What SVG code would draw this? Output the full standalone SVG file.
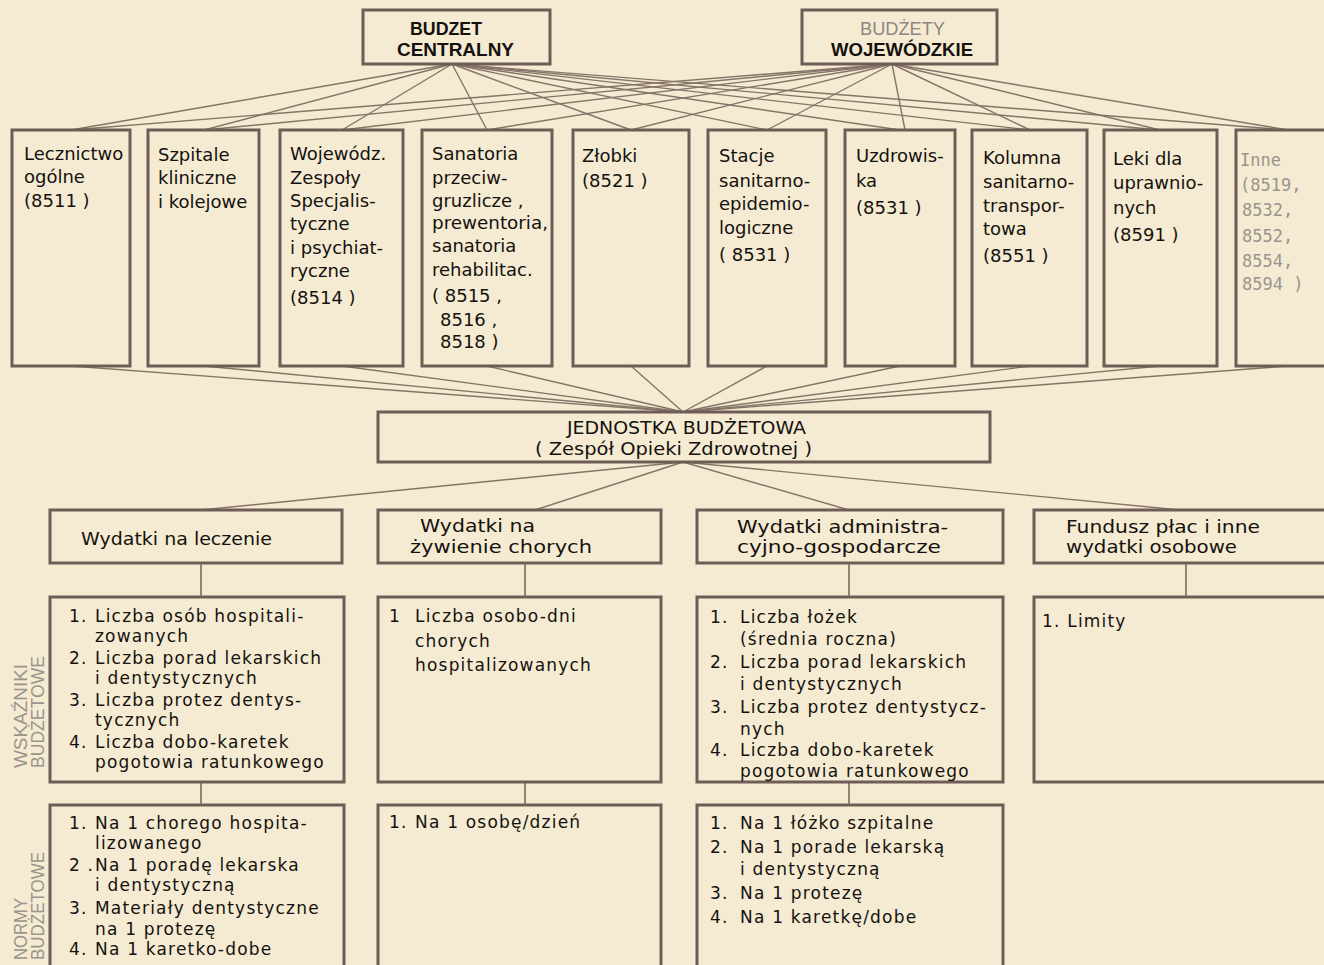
<svg xmlns="http://www.w3.org/2000/svg" width="1324" height="965" viewBox="0 0 1324 965">
<style>
.bg{fill:#f4ebd2}
.box{fill:none;stroke:#6f5c57;stroke-width:3}
.ln{stroke:#857468;stroke-width:1.4;fill:none}
.vl{stroke:#7a6a62;stroke-width:1.6;fill:none}
text{font-family:"DejaVu Sans","Liberation Sans",sans-serif;fill:#15110e}
.r{font-size:18px}
.i{font-size:17px;letter-spacing:1.2px}
.h{font-size:18px}
.top{font-family:"Liberation Sans",sans-serif;font-size:18px;font-weight:bold}
.gray{fill:#8c8680;font-weight:normal}
.mono{font-family:"DejaVu Sans Mono","Liberation Mono",monospace;font-size:17px;fill:#9a948e}
.side{font-family:"Liberation Sans",sans-serif;font-size:18px;fill:#9a948d}
</style>
<rect class="bg" x="0" y="0" width="1324" height="965"/>

<g id="connectors">
  <line class="ln" x1="452" y1="64" x2="71" y2="130"/>
  <line class="ln" x1="452" y1="64" x2="204" y2="130"/>
  <line class="ln" x1="452" y1="64" x2="342" y2="130"/>
  <line class="ln" x1="452" y1="64" x2="487" y2="130"/>
  <line class="ln" x1="452" y1="64" x2="631" y2="130"/>
  <line class="ln" x1="452" y1="64" x2="767" y2="130"/>
  <line class="ln" x1="452" y1="64" x2="900" y2="130"/>
  <line class="ln" x1="452" y1="64" x2="1030" y2="130"/>
  <line class="ln" x1="452" y1="64" x2="1160" y2="130"/>
  <line class="ln" x1="452" y1="64" x2="1288" y2="130"/>
  <line class="ln" x1="892" y1="64" x2="71" y2="130"/>
  <line class="ln" x1="892" y1="64" x2="204" y2="130"/>
  <line class="ln" x1="892" y1="64" x2="342" y2="130"/>
  <line class="ln" x1="892" y1="64" x2="487" y2="130"/>
  <line class="ln" x1="892" y1="64" x2="631" y2="130"/>
  <line class="ln" x1="892" y1="64" x2="767" y2="130"/>
  <line class="ln" x1="892" y1="64" x2="905" y2="130"/>
  <line class="ln" x1="892" y1="64" x2="1030" y2="130"/>
  <line class="ln" x1="892" y1="64" x2="1160" y2="130"/>
  <line class="ln" x1="892" y1="64" x2="1288" y2="130"/>
  <line class="ln" x1="71" y1="366" x2="683" y2="412"/>
  <line class="ln" x1="204" y1="366" x2="683" y2="412"/>
  <line class="ln" x1="342" y1="366" x2="683" y2="412"/>
  <line class="ln" x1="487" y1="366" x2="683" y2="412"/>
  <line class="ln" x1="631" y1="366" x2="683" y2="412"/>
  <line class="ln" x1="767" y1="366" x2="683" y2="412"/>
  <line class="ln" x1="900" y1="366" x2="683" y2="412"/>
  <line class="ln" x1="1030" y1="366" x2="683" y2="412"/>
  <line class="ln" x1="1160" y1="366" x2="683" y2="412"/>
  <line class="ln" x1="1288" y1="366" x2="683" y2="412"/>
  <line class="ln" x1="683" y1="462" x2="201" y2="510"/>
  <line class="ln" x1="683" y1="462" x2="535" y2="510"/>
  <line class="ln" x1="683" y1="462" x2="849" y2="510"/>
  <line class="ln" x1="683" y1="462" x2="1180" y2="510"/>
  <line class="vl" x1="201" y1="563" x2="201" y2="597"/>
  <line class="vl" x1="525" y1="563" x2="525" y2="597"/>
  <line class="vl" x1="849" y1="563" x2="849" y2="597"/>
  <line class="vl" x1="1186" y1="563" x2="1186" y2="597"/>
  <line class="vl" x1="201" y1="782" x2="201" y2="805"/>
  <line class="vl" x1="525" y1="782" x2="525" y2="805"/>
  <line class="vl" x1="849" y1="782" x2="849" y2="805"/>
</g>

<g id="budzet-centralny">
  <rect class="box" x="363" y="10" width="187" height="54"/>
  <text class="top" x="410" y="35" textLength="72" lengthAdjust="spacingAndGlyphs">BUDZET</text>
  <text class="top" x="397" y="56" textLength="117" lengthAdjust="spacingAndGlyphs">CENTRALNY</text>
</g>
<g id="budzety-wojewodzkie">
  <rect class="box" x="802" y="10" width="195" height="54"/>
  <text class="top gray" x="860" y="35" textLength="85" lengthAdjust="spacingAndGlyphs">BUDŻETY</text>
  <text class="top" x="831" y="56" textLength="142" lengthAdjust="spacingAndGlyphs">WOJEWÓDZKIE</text>
</g>

<g id="lecznictwo">
  <rect class="box" x="12" y="130" width="118" height="236"/>
  <text class="r" x="24" y="160">Lecznictwo</text>
  <text class="r" x="24" y="183">ogólne</text>
  <text class="r" x="24" y="207">(8511 )</text>
</g>
<g id="szpitale">
  <rect class="box" x="148" y="130" width="111" height="236"/>
  <text class="r" x="158" y="161">Szpitale</text>
  <text class="r" x="158" y="184">kliniczne</text>
  <text class="r" x="158" y="208">i kolejowe</text>
</g>
<g id="wojewodz">
  <rect class="box" x="280" y="130" width="123" height="236"/>
  <text class="r" x="290" y="160">Wojewódz.</text>
  <text class="r" x="290" y="184">Zespoły</text>
  <text class="r" x="290" y="207">Specjalis-</text>
  <text class="r" x="290" y="230">tyczne</text>
  <text class="r" x="290" y="254">i psychiat-</text>
  <text class="r" x="290" y="277">ryczne</text>
  <text class="r" x="290" y="304">(8514 )</text>
</g>
<g id="sanatoria">
  <rect class="box" x="422" y="130" width="130" height="236"/>
  <text class="r" x="432" y="160">Sanatoria</text>
  <text class="r" x="432" y="184">przeciw-</text>
  <text class="r" x="432" y="207">gruzlicze ,</text>
  <text class="r" x="432" y="229" textLength="116" lengthAdjust="spacingAndGlyphs">prewentoria,</text>
  <text class="r" x="432" y="252">sanatoria</text>
  <text class="r" x="432" y="276">rehabilitac.</text>
  <text class="r" x="432" y="302">( 8515 ,</text>
  <text class="r" x="440" y="326">8516 ,</text>
  <text class="r" x="440" y="348">8518 )</text>
</g>
<g id="zlobki">
  <rect class="box" x="573" y="130" width="116" height="236"/>
  <text class="r" x="582" y="162">Złobki</text>
  <text class="r" x="582" y="187">(8521 )</text>
</g>
<g id="stacje">
  <rect class="box" x="708" y="130" width="118" height="236"/>
  <text class="r" x="719" y="162">Stacje</text>
  <text class="r" x="719" y="187">sanitarno-</text>
  <text class="r" x="719" y="210">epidemio-</text>
  <text class="r" x="719" y="234">logiczne</text>
  <text class="r" x="719" y="261">( 8531 )</text>
</g>
<g id="uzdrowiska">
  <rect class="box" x="845" y="130" width="110" height="236"/>
  <text class="r" x="856" y="162">Uzdrowis-</text>
  <text class="r" x="856" y="187">ka</text>
  <text class="r" x="856" y="214">(8531 )</text>
</g>
<g id="kolumna">
  <rect class="box" x="972" y="130" width="115" height="236"/>
  <text class="r" x="983" y="164">Kolumna</text>
  <text class="r" x="983" y="188">sanitarno-</text>
  <text class="r" x="983" y="212">transpor-</text>
  <text class="r" x="983" y="235">towa</text>
  <text class="r" x="983" y="262">(8551 )</text>
</g>
<g id="leki">
  <rect class="box" x="1104" y="130" width="113" height="236"/>
  <text class="r" x="1113" y="165">Leki dla</text>
  <text class="r" x="1113" y="189">uprawnio-</text>
  <text class="r" x="1113" y="214">nych</text>
  <text class="r" x="1113" y="241">(8591 )</text>
</g>
<g id="inne">
  <rect class="box" x="1236" y="130" width="110" height="236"/>
  <text class="mono" x="1240" y="166">Inne</text>
  <text class="mono" x="1240" y="191">(8519,</text>
  <text class="mono" x="1242" y="216">8532,</text>
  <text class="mono" x="1242" y="242">8552,</text>
  <text class="mono" x="1242" y="267">8554,</text>
  <text class="mono" x="1242" y="290">8594 )</text>
</g>

<g id="jednostka">
  <rect class="box" x="378" y="412" width="612" height="50"/>
  <text class="h" x="567" y="434" textLength="239" lengthAdjust="spacingAndGlyphs">JEDNOSTKA BUDŻETOWA</text>
  <text class="h" x="535" y="455" textLength="277" lengthAdjust="spacingAndGlyphs">( Zespół Opieki Zdrowotnej )</text>
</g>

<g id="wydatki-leczenie">
  <rect class="box" x="50" y="510" width="292" height="53"/>
  <text class="h" x="81" y="545" textLength="191" lengthAdjust="spacingAndGlyphs">Wydatki na leczenie</text>
</g>
<g id="wydatki-zywienie">
  <rect class="box" x="378" y="510" width="283" height="53"/>
  <text class="h" x="420" y="532" textLength="115" lengthAdjust="spacingAndGlyphs">Wydatki na</text>
  <text class="h" x="410" y="553" textLength="182" lengthAdjust="spacingAndGlyphs">żywienie chorych</text>
</g>
<g id="wydatki-admin">
  <rect class="box" x="697" y="510" width="306" height="53"/>
  <text class="h" x="737" y="533" textLength="211" lengthAdjust="spacingAndGlyphs">Wydatki administra-</text>
  <text class="h" x="737" y="553" textLength="204" lengthAdjust="spacingAndGlyphs">cyjno-gospodarcze</text>
</g>
<g id="fundusz-plac">
  <rect class="box" x="1034" y="510" width="300" height="53"/>
  <text class="h" x="1066" y="533" textLength="194" lengthAdjust="spacingAndGlyphs">Fundusz płac i inne</text>
  <text class="h" x="1066" y="553" textLength="171" lengthAdjust="spacingAndGlyphs">wydatki osobowe</text>
</g>

<g id="wskazniki-leczenie">
  <rect class="box" x="50" y="597" width="294" height="185"/>
  <text class="i" x="69" y="622">1.</text><text class="i" x="95" y="622">Liczba osób hospitali-</text>
  <text class="i" x="95" y="642">zowanych</text>
  <text class="i" x="69" y="664">2.</text><text class="i" x="95" y="664">Liczba porad lekarskich</text>
  <text class="i" x="95" y="684">i dentystycznych</text>
  <text class="i" x="69" y="706">3.</text><text class="i" x="95" y="706">Liczba protez dentys-</text>
  <text class="i" x="95" y="726">tycznych</text>
  <text class="i" x="69" y="748">4.</text><text class="i" x="95" y="748">Liczba dobo-karetek</text>
  <text class="i" x="95" y="768">pogotowia ratunkowego</text>
</g>
<g id="wskazniki-zywienie">
  <rect class="box" x="378" y="597" width="283" height="185"/>
  <text class="i" x="389" y="622">1</text><text class="i" x="415" y="622">Liczba osobo-dni</text>
  <text class="i" x="415" y="647">chorych</text>
  <text class="i" x="415" y="671">hospitalizowanych</text>
</g>
<g id="wskazniki-admin">
  <rect class="box" x="697" y="597" width="306" height="185"/>
  <text class="i" x="710" y="623">1.</text><text class="i" x="740" y="623">Liczba łożek</text>
  <text class="i" x="740" y="645">(średnia roczna)</text>
  <text class="i" x="710" y="668">2.</text><text class="i" x="740" y="668">Liczba porad lekarskich</text>
  <text class="i" x="740" y="690">i dentystycznych</text>
  <text class="i" x="710" y="713">3.</text><text class="i" x="740" y="713">Liczba protez dentystycz-</text>
  <text class="i" x="740" y="735">nych</text>
  <text class="i" x="710" y="756">4.</text><text class="i" x="740" y="756">Liczba dobo-karetek</text>
  <text class="i" x="740" y="777">pogotowia ratunkowego</text>
</g>
<g id="wskazniki-fundusz">
  <rect class="box" x="1034" y="597" width="300" height="185"/>
  <text class="i" x="1042" y="627">1. Limity</text>
</g>

<g id="normy-leczenie">
  <rect class="box" x="50" y="805" width="294" height="175"/>
  <text class="i" x="69" y="829">1.</text><text class="i" x="95" y="829">Na 1 chorego hospita-</text>
  <text class="i" x="95" y="849">lizowanego</text>
  <text class="i" x="69" y="871">2 .</text><text class="i" x="95" y="871">Na 1 poradę lekarska</text>
  <text class="i" x="95" y="891">i dentystyczną</text>
  <text class="i" x="69" y="914">3.</text><text class="i" x="95" y="914">Materiały dentystyczne</text>
  <text class="i" x="95" y="935">na 1 protezę</text>
  <text class="i" x="69" y="955">4.</text><text class="i" x="95" y="955">Na 1 karetko-dobe</text>
</g>
<g id="normy-zywienie">
  <rect class="box" x="378" y="805" width="283" height="175"/>
  <text class="i" x="389" y="828">1.</text><text class="i" x="415" y="828">Na  1 osobę/dzień</text>
</g>
<g id="normy-admin">
  <rect class="box" x="697" y="805" width="306" height="175"/>
  <text class="i" x="710" y="829">1.</text><text class="i" x="740" y="829">Na 1 łóżko szpitalne</text>
  <text class="i" x="710" y="853">2.</text><text class="i" x="740" y="853">Na 1 porade lekarską</text>
  <text class="i" x="740" y="875">i dentystyczną</text>
  <text class="i" x="710" y="899">3.</text><text class="i" x="740" y="899">Na 1 protezę</text>
  <text class="i" x="710" y="923">4.</text><text class="i" x="740" y="923">Na 1 karetkę/dobe</text>
</g>

<g id="side-labels">
  <text class="side" transform="translate(27,768) rotate(-90)" textLength="104" lengthAdjust="spacingAndGlyphs">WSKAŹNIKI</text>
  <text class="side" transform="translate(44,768) rotate(-90)" textLength="112" lengthAdjust="spacingAndGlyphs">BUDŻETOWE</text>
  <text class="side" transform="translate(27,960) rotate(-90)" textLength="62" lengthAdjust="spacingAndGlyphs">NORMY</text>
  <text class="side" transform="translate(44,960) rotate(-90)" textLength="108" lengthAdjust="spacingAndGlyphs">BUDŻETOWE</text>
</g>
</svg>
